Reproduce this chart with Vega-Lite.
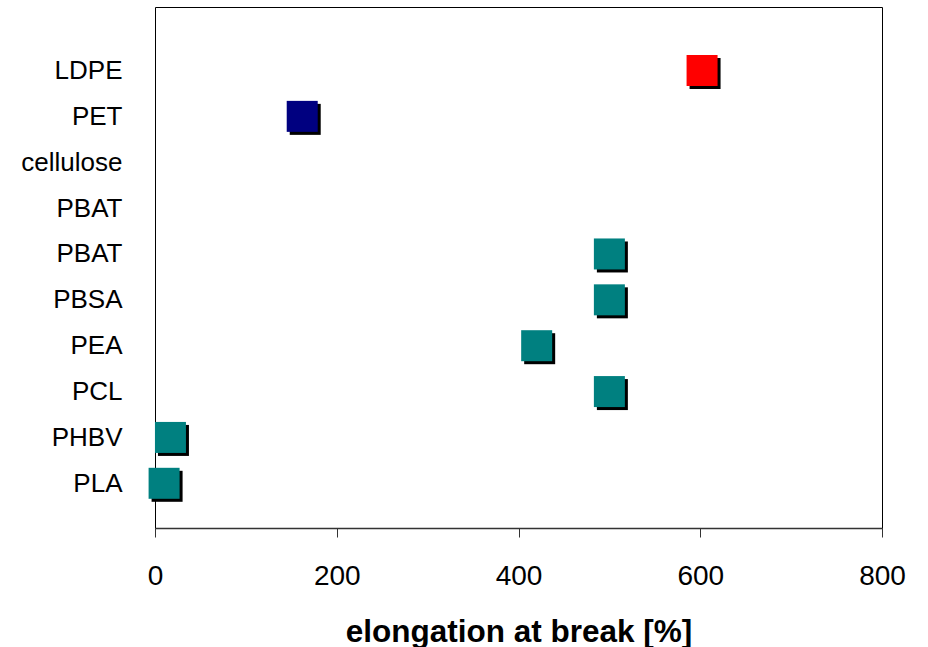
{
  "$schema": "https://vega.github.io/schema/vega-lite/v6.json",
  "autosize": {"type": "none"},
  "padding": {"left": 155, "top": 7, "right": 46, "bottom": 119},
  "width": 727,
  "height": 521,
  "background": "white",
  "config": {
    "view": {"stroke": "#000000", "strokeWidth": 1},
    "font": "Liberation Sans"
  },
  "data": {
    "values": [
      {"id": "LDPE", "polymer": "LDPE", "type": "LDPE", "elongation": 602},
      {"id": "PET", "polymer": "PET", "type": "PET", "elongation": 162},
      {"id": "cellulose", "polymer": "cellulose", "type": "biodegradable", "elongation": null},
      {"id": "PBAT|1", "polymer": "PBAT", "type": "biodegradable", "elongation": null},
      {"id": "PBAT|2", "polymer": "PBAT", "type": "biodegradable", "elongation": 500},
      {"id": "PBSA", "polymer": "PBSA", "type": "biodegradable", "elongation": 500},
      {"id": "PEA", "polymer": "PEA", "type": "biodegradable", "elongation": 420},
      {"id": "PCL", "polymer": "PCL", "type": "biodegradable", "elongation": 500},
      {"id": "PHBV", "polymer": "PHBV", "type": "biodegradable", "elongation": 17},
      {"id": "PLA", "polymer": "PLA", "type": "biodegradable", "elongation": 10}
    ]
  },
  "encoding": {
    "x": {
      "field": "elongation",
      "type": "quantitative",
      "scale": {"domain": [0, 800], "nice": false, "zero": true},
      "axis": {
        "values": [0, 200, 400, 600, 800],
        "grid": false,
        "title": "elongation at break [%]",
        "titleFontSize": 31.5,
        "titleFontWeight": "bold",
        "titleColor": "#000000",
        "titleBaseline": "alphabetic",
        "titleY": 113,
        "labelFontSize": 28,
        "labelColor": "#000000",
        "labelPadding": 25,
        "tickSize": 9,
        "tickColor": "#333333",
        "domainColor": "#333333",
        "domainWidth": 1.5,
        "labelFlush": false
      }
    },
    "y": {
      "field": "id",
      "type": "nominal",
      "sort": null,
      "scale": {
        "type": "point",
        "domain": ["LDPE", "PET", "cellulose", "PBAT|1", "PBAT|2", "PBSA", "PEA", "PCL", "PHBV", "PLA"],
        "range": [63.5, 476.3],
        "padding": 0
      },
      "axis": {
        "title": null,
        "ticks": false,
        "tickSize": 0,
        "domain": false,
        "labelPadding": 33,
        "labelFontSize": 26,
        "labelColor": "#000000",
        "labelExpr": "split(datum.value, '|')[0]"
      }
    }
  },
  "layer": [
    {
      "mark": {"type": "square", "size": 961, "filled": true, "opacity": 1, "color": "#000000", "xOffset": 3, "yOffset": 3}
    },
    {
      "mark": {"type": "square", "size": 961, "filled": true, "opacity": 1},
      "encoding": {
        "color": {
          "field": "type",
          "type": "nominal",
          "scale": {"domain": ["LDPE", "PET", "biodegradable"], "range": ["#FF0000", "#000080", "#008080"]},
          "legend": null
        }
      }
    }
  ]
}
